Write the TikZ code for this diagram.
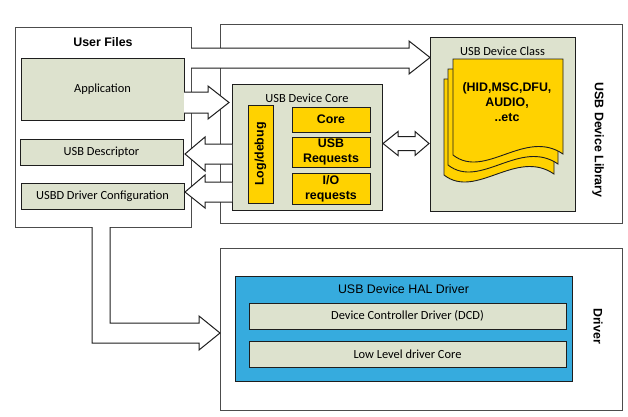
\documentclass[tikz,border=0pt]{standalone}
\usepackage{fontspec}
\setmainfont{Carlito}
\newfontfamily\arialf{Liberation Sans}
\usetikzlibrary{calc}
\definecolor{sage}{RGB}{221,226,206}
\definecolor{gold}{RGB}{255,210,0}
\definecolor{halblue}{RGB}{54,171,222}
\definecolor{edgec}{RGB}{30,30,30}
\newcommand\mytxt{\fontsize{12.4}{15}\selectfont}
\newcommand\mybold{\arialf\bfseries\fontsize{12.4}{15}\selectfont}
\newcommand\myarial{\arialf\fontsize{12.4}{15}\selectfont}
\begin{document}
\begin{tikzpicture}[x=1pt,y=-1pt,
  outerbox/.style={draw=black!70, line width=1pt, fill=white, inner sep=0pt, outer sep=0pt},
  sagebox/.style={draw=edgec, line width=1pt, fill=sage, inner sep=0pt, outer sep=0pt, font=\mytxt},
  goldbox/.style={draw=edgec, line width=1pt, fill=gold, inner sep=0pt, outer sep=0pt, font=\mybold, align=center},
  bluebox/.style={draw=edgec, line width=1pt, fill=halblue, inner sep=0pt, outer sep=0pt},
  barrow/.style={fill=white, draw=edgec, line width=1pt, line join=miter},
  docpage/.style={fill=gold, draw=edgec, line width=0.9pt},
  lbl/.style={inner sep=0pt, font=\mytxt},
  boldlbl/.style={inner sep=0pt, font=\mybold, align=center}
]
\useasboundingbox (0,0) rectangle (628,416);

% outer regions
\node[outerbox, minimum width=176pt, minimum height=200pt] (userfiles) at (103,127) {};
\node[outerbox, minimum width=402pt, minimum height=199pt] (lib) at (421,123.5) {};
\node[outerbox, minimum width=402pt, minimum height=162pt] (driver) at (421,329) {};

\node[boldlbl] (uftitle) at (103,42) {User Files};
\node[boldlbl, rotate=-90] (liblbl) at (598,140) {USB Device Library};
\node[boldlbl, rotate=-90] (drvlbl) at (598,326) {Driver};

% user files contents
\node[sagebox, minimum width=163pt, minimum height=62pt] (app) at (102.5,89) {Application};
\node[sagebox, minimum width=163pt, minimum height=26pt] (desc) at (101.5,152) {USB Descriptor};
\node[sagebox, minimum width=163pt, minimum height=26pt] (cfg) at (102.5,196) {USBD Driver Configuration};

% USB device core
\node[sagebox, minimum width=150pt, minimum height=126pt] (core) at (307,147) {};
\node[lbl] (corelbl) at (307,98) {USB Device Core};
\node[goldbox, minimum width=25pt, minimum height=98pt] (log) at (260.5,154) {};
\node[boldlbl, rotate=90] (loglbl) at (log.center) {Log/debug};
\node[goldbox, minimum width=78pt, minimum height=25pt] (corecore) at (331,119.5) {Core};
\node[goldbox, minimum width=78pt, minimum height=30pt] (usbreq) at (331,152) {USB\\Requests};
\node[goldbox, minimum width=78pt, minimum height=31pt] (ioreq) at (331,188.5) {I/O\\requests};

% USB device class
\node[sagebox, minimum width=145pt, minimum height=174pt] (class) at (502.5,124) {};
\node[lbl] (classlbl) at (502.5,51) {USB Device Class};
\foreach \dx/\dy in {-9/20, -5/10, 0/0}{
  \begin{scope}[shift={(\dx,\dy)}]
    \filldraw[docpage] (453,59) -- (563,59) -- (563,154)
      .. controls (525,128) and (485,180) .. (453,155) -- cycle;
  \end{scope}
}
\node[boldlbl] (classtxt) at (507,102) {(HID,MSC,DFU,\\AUDIO,\\..etc};

% HAL driver
\node[bluebox, minimum width=337pt, minimum height=105pt] (hal) at (403.5,328.5) {};
\node[inner sep=0pt, font=\myarial] (hallbl) at (403.5,289) {USB Device HAL Driver};
\node[sagebox, minimum width=317pt, minimum height=26pt] (dcd) at (407.5,316) {Device Controller Driver (DCD)};
\node[sagebox, minimum width=317pt, minimum height=26pt] (ll) at (407.5,354) {Low Level driver Core};

% block arrows
% user files -> class
\path[barrow] (userfiles.east |- 0,48) -- (409,48) -- (409,41) -- (class.west |- 0,57.5)
  -- (409,74) -- (409,68) -- (userfiles.east |- 0,68);
% application -> core
\path[barrow] (app.east |- 0,92) -- (208,92) -- (208,86) -- ($(core.west |- 0,102.5)+(-3,0)$)
  -- (208,119) -- (208,113) -- (app.east |- 0,113);
% core -> descriptor
\path[barrow] (core.west |- 0,144) -- (205,144) -- (205,137) -- ($(desc.east |- 0,154)+(2,0)$)
  -- (205,171) -- (205,164) -- (core.west |- 0,164);
% core -> driver configuration
\path[barrow] (core.west |- 0,182) -- (205,182) -- (205,175) -- ($(cfg.east |- 0,192)+(1,0)$)
  -- (205,208) -- (205,202) -- (core.west |- 0,202);
% core <-> class
\filldraw[barrow] ($(core.east |- 0,143.5)+(1,0)$) -- (398,131.5) -- (398,136.5) -- (415,136.5)
  -- (415,131.5) -- ($(class.west |- 0,143.5)+(-1,0)$) -- (415,155.5) -- (415,150.5)
  -- (398,150.5) -- (398,155.5) -- cycle;
% user files -> driver
\path[barrow] (userfiles.south -| 92,0) -- (92,343) -- (199,343) -- (199,350)
  -- (driver.west |- 0,333) -- (199,316) -- (199,323) -- (110,323) -- (userfiles.south -| 110,0);
\end{tikzpicture}
\end{document}
